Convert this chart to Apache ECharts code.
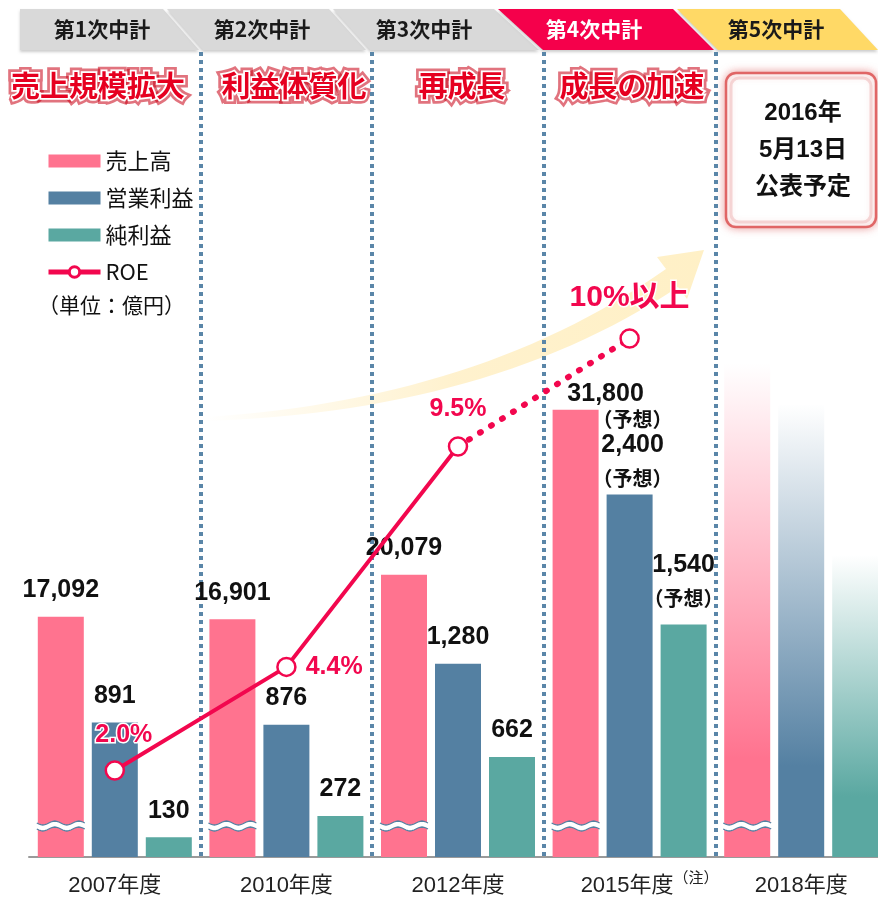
<!DOCTYPE html>
<html lang="ja">
<head>
<meta charset="utf-8">
<title>中期経営計画と業績の推移</title>
<script src="https://cdn.jsdelivr.net/npm/echarts@6/dist/echarts.min.js"></script>
<style>
  html, body { margin: 0; padding: 0; background: #fff; }
  #main { width: 878px; height: 900px; }
</style>
</head>
<body>
<div id="main"></div>
<script>
// 年度
const years = ['2007年度', '2010年度', '2012年度', '2015年度', '2018年度']
const yearNotes = ['', '', '', '（注）', '']
// 中計
const plans = ['第1次中計', '第2次中計', '第3次中計', '第4次中計', '第5次中計']
const themes = ['売上規模拡大', '利益体質化', '再成長', '成長の加速']
// 単位：億円（2018年度は未公表、棒の高さのみ）
const sales = [17092, 16901, 20079, 31800, 35100]
const operatingProfit = [891, 876, 1280, 2400, 3000]
const netProfit = [130, 272, 662, 1540, 2000]
const forecast = [false, false, false, true, false]
const undisclosed = [false, false, false, false, true]
// ROE（%）
const roe = [2.0, 4.4, 9.5, null, null]
const roeTarget = [null, null, 9.5, 12, null]
const roeLabels = ['2.0%', '4.4%', '9.5%', '10%以上', '']
const announce = ['2016年', '5月13日', '公表予定']

const PINK = '#ff738f'
const BLUE = '#5480a2'
const TEAL = '#5aa8a1'
const RED = '#f2074e'
const BAR_W = 46
const BAR_GAP = 8
const NUM_FONT = '"Liberation Sans", "Noto Sans CJK JP", sans-serif'
const JP_FONT = '"Noto Sans CJK JP", sans-serif'

const chart = echarts.init(document.getElementById('main'))

const fmt = v => v.toLocaleString('en-US')

const rgba = (hex, a) => {
  const n = parseInt(hex.slice(1), 16)
  return `rgba(${n >> 16}, ${(n >> 8) & 255}, ${n & 255}, ${a})`
}

// 未公表の棒は上に向かって消えていく
const fade = hex => new echarts.graphic.LinearGradient(0, 0, 0, 1, [
  { offset: 0, color: rgba(hex, 0) },
  { offset: 0.8, color: hex }
])

const richBase = (lh, padLeft) => ({
  v: { fontSize: 25, fontWeight: 'bold', lineHeight: lh, align: 'center', color: '#111', fontFamily: NUM_FONT },
  p: { fontSize: 20, fontWeight: 'bold', lineHeight: lh, align: 'center', color: '#111', fontFamily: JP_FONT, padding: [0, 0, 0, padLeft] }
})

const valueLabel = {
  show: true,
  position: 'top',
  distance: 10,
  formatter: p => forecast[p.dataIndex]
    ? `{v|${fmt(p.value)}}\n{p|（予想）}`
    : `{v|${fmt(p.value)}}`,
  rich: richBase(33, 0)
}

// forecastLabel: 予想の年だけ位置をずらす
const barData = (values, color, forecastLabel) => values.map((v, i) => {
  if (undisclosed[i]) {
    return { value: v, itemStyle: { color: fade(color) }, label: { show: false } }
  }
  if (forecast[i] && forecastLabel) return { value: v, label: forecastLabel }
  return v
})

const barSeries = (name, values, color, yAxisIndex, forecastLabel) => ({
  name,
  type: 'bar',
  yAxisIndex,
  barWidth: BAR_W,
  barGap: (BAR_GAP / BAR_W * 100) + '%',
  itemStyle: { color },
  label: valueLabel,
  data: barData(values, color, forecastLabel)
})

// 売上高の棒の省略記号（波線）
const waveItem = (params, api) => {
  const base = api.coord([api.value(0), 0])
  const cx = base[0] - (BAR_W + BAR_GAP)
  const cy = base[1] - 31
  const half = BAR_W / 2 + 1
  const top = []
  const bottom = []
  for (let k = 0; k <= 24; k++) {
    const x = cx - half + (2 * half) * k / 24
    const dy = 2 * Math.sin(k / 24 * Math.PI * 4)
    top.push([x, cy - 3 + dy])
    bottom.push([x, cy + 3 + dy])
  }
  return {
    type: 'group',
    children: [
      { type: 'polygon', shape: { points: top.concat(bottom.slice().reverse()) }, style: { fill: '#fff' } },
      { type: 'polyline', shape: { points: top }, style: { stroke: BLUE, lineWidth: 1.3, fill: null } },
      { type: 'polyline', shape: { points: bottom }, style: { stroke: BLUE, lineWidth: 1.3, fill: null } }
    ]
  }
}

const roeLabelStyle = {
  show: true,
  color: RED,
  fontSize: 25,
  fontWeight: 'bold',
  fontFamily: NUM_FONT,
  textBorderColor: '#fff',
  textBorderWidth: 3,
  formatter: p => roeLabels[p.dataIndex]
}
const roeLabelPos = [
  { position: 'top', distance: 13, offset: [9, 0] },
  { position: 'right', distance: 9 },
  { position: 'top', distance: 15 },
  { position: 'top', distance: 15, fontSize: 30, fontFamily: NUM_FONT }
]

const headerPoints = [
  [[20, 9], [163, 9], [199, 50], [20, 50]],
  [[167, 9], [329, 9], [366, 50], [203, 50]],
  [[333, 9], [494, 9], [539, 50], [370, 50]],
  [[498, 9], [673, 9], [714, 50], [543, 50]],
  [[677, 9], [840, 9], [878, 50], [718, 50]]
]
const headerFill = ['#d9d9d9', '#d9d9d9', '#d9d9d9', '#f5004b', '#ffd966']
const headerText = ['#1a1a1a', '#1a1a1a', '#1a1a1a', '#fff', '#1a1a1a']
const headerCx = [102, 262, 424, 594, 776]
const themeCx = [98, 294, 462, 632]

// 二次ベジェを点列にする（矢印の外形用）
const quad = (p0, c, p1, n) => {
  const pts = []
  for (let k = 0; k <= n; k++) {
    const t = k / n
    const a = (1 - t) * (1 - t), b = 2 * t * (1 - t), d = t * t
    pts.push([a * p0[0] + b * c[0] + d * p1[0], a * p0[1] + b * c[1] + d * p1[1]])
  }
  return pts
}
const arrowPoints = quad([205, 417], [480, 400], [666, 269], 30)
  .concat([[657, 257], [704, 250], [687, 299]])
  .concat(quad([205, 421], [490, 412], [678, 287], 30).reverse())

const graphics = []

// 大きな矢印（背景）
graphics.push({
  type: 'polygon',
  z: -1,
  shape: { points: arrowPoints },
  style: {
    fill: new echarts.graphic.LinearGradient(0, 0, 1, 0, [
      { offset: 0, color: 'rgba(255, 240, 200, 0)' },
      { offset: 0.5, color: 'rgba(255, 240, 200, 0.9)' },
      { offset: 1, color: '#fff0c6' }
    ])
  }
})

plans.forEach((name, i) => {
  graphics.push({
    type: 'polygon',
    shape: { points: headerPoints[i] },
    style: {
      fill: headerFill[i],
      shadowBlur: 3,
      shadowOffsetY: 2,
      shadowColor: 'rgba(0, 0, 0, 0.2)'
    }
  })
  graphics.push({
    type: 'text',
    x: headerCx[i],
    y: 29,
    style: {
      text: name,
      fill: headerText[i],
      font: 'bold 21px ' + JP_FONT,
      textAlign: 'center',
      textVerticalAlign: 'middle'
    }
  })
})

// テーマ：赤い縁取り＋白い縁取り＋赤文字
themes.forEach((t, i) => {
  const base = {
    text: t,
    font: 'bold 29px ' + JP_FONT,
    textAlign: 'center',
    textVerticalAlign: 'middle'
  }
  graphics.push({
    type: 'text',
    x: themeCx[i],
    y: 86,
    style: Object.assign({}, base, {
      fill: '#c40018',
      stroke: 'rgba(200, 0, 20, 0.55)',
      lineWidth: 9,
      shadowBlur: 5,
      shadowColor: 'rgba(190, 0, 20, 0.8)'
    })
  })
  graphics.push({
    type: 'text',
    x: themeCx[i],
    y: 86,
    style: Object.assign({}, base, {
      fill: '#e60020',
      stroke: '#fff',
      lineWidth: 3.5,
      strokeFirst: true
    })
  })
})

// 公表予定の枠
graphics.push({
  type: 'rect',
  shape: { x: 726, y: 73, width: 150, height: 154, r: 10 },
  style: {
    fill: '#fff',
    stroke: '#e06666',
    lineWidth: 2.5,
    shadowBlur: 8,
    shadowColor: 'rgba(220, 80, 80, 0.5)'
  }
})
graphics.push({
  type: 'rect',
  shape: { x: 731, y: 78, width: 140, height: 144, r: 8 },
  style: { fill: null, stroke: 'rgba(240, 190, 190, 0.6)', lineWidth: 3 }
})
announce.forEach((t, i) => {
  graphics.push({
    type: 'text',
    x: 803,
    y: 113 + i * 37,
    style: {
      text: t,
      fill: '#111',
      font: 'bold 24px ' + NUM_FONT,
      textAlign: 'center',
      textVerticalAlign: 'middle'
    }
  })
})

graphics.push({
  type: 'text',
  x: 38,
  y: 305,
  style: {
    text: '（単位：億円）',
    fill: '#111',
    font: '21px ' + JP_FONT,
    textVerticalAlign: 'middle'
  }
})

const option = {
  animation: false,
  backgroundColor: '#fff',
  textStyle: { fontFamily: JP_FONT },
  grid: {
    left: 29,
    top: 52,
    width: 858,
    height: 805,
    containLabel: false,
    outerBoundsMode: 'none'
  },
  legend: {
    data: [
      { name: '売上高', icon: 'rect' },
      { name: '営業利益', icon: 'rect' },
      { name: '純利益', icon: 'rect' },
      { name: 'ROE', lineStyle: { width: 5 }, itemStyle: { borderWidth: 3 } }
    ],
    orient: 'vertical',
    left: 41,
    top: 145,
    itemWidth: 52,
    itemHeight: 13,
    itemGap: 15,
    selectedMode: false,
    textStyle: { fontSize: 22, color: '#111', fontFamily: JP_FONT }
  },
  xAxis: {
    type: 'category',
    data: years,
    boundaryGap: true,
    axisLine: { lineStyle: { color: '#9a9a9a', width: 2 } },
    axisTick: { show: false },
    axisLabel: {
      margin: 13,
      interval: 0,
      formatter: (v, i) => yearNotes[i]
        ? `{y2|${v}}{n|${yearNotes[i]}}`
        : `{y|${v}}`,
      rich: {
        y: { fontSize: 22, color: '#222', lineHeight: 32, fontFamily: NUM_FONT },
        y2: { fontSize: 22, color: '#222', lineHeight: 32, fontFamily: NUM_FONT, padding: [0, 0, 0, 40] },
        n: { fontSize: 15, color: '#222', lineHeight: 15, verticalAlign: 'top', fontFamily: JP_FONT }
      }
    },
    splitLine: {
      show: true,
      interval: 0,
      showMinLine: false,
      showMaxLine: false,
      lineStyle: { color: '#5a86a8', width: 4, type: [4, 4] }
    }
  },
  yAxis: [
    { type: 'value', show: false, min: 0, max: 57250 },
    { type: 'value', show: false, min: 0, max: 5330 },
    { type: 'value', show: false, min: 0, max: 18.63 }
  ],
  series: [
    barSeries('売上高', sales, PINK, 0, {
      offset: [30, 33],
      rich: richBase(26, 54)
    }),
    barSeries('営業利益', operatingProfit, BLUE, 1, {
      distance: 0,
      offset: [3, 0]
    }),
    barSeries('純利益', netProfit, TEAL, 1, null),
    {
      name: '波線',
      type: 'custom',
      yAxisIndex: 0,
      z: 3,
      silent: true,
      renderItem: waveItem,
      data: years.map((y, i) => [i, 0])
    },
    {
      name: 'ROE',
      type: 'line',
      yAxisIndex: 2,
      z: 5,
      symbol: 'circle',
      symbolSize: 18,
      lineStyle: { color: RED, width: 4 },
      itemStyle: { color: '#fff', borderColor: RED, borderWidth: 2.5 },
      label: roeLabelStyle,
      data: roe.map((v, i) => v == null ? null : { value: v, label: roeLabelPos[i] })
    },
    {
      name: 'ROE目標',
      type: 'line',
      yAxisIndex: 2,
      z: 4,
      symbol: 'circle',
      symbolSize: 18,
      lineStyle: { color: RED, width: 6, type: [1, 12], cap: 'round' },
      itemStyle: { color: '#fff', borderColor: RED, borderWidth: 2.5 },
      label: roeLabelStyle,
      data: roeTarget.map((v, i) => {
        if (v == null) return null
        if (roe[i] != null) return { value: v, symbol: 'none', label: { show: false } }
        return { value: v, label: roeLabelPos[i] }
      })
    }
  ],
  graphic: { elements: graphics }
}

chart.setOption(option)
</script>
</body>
</html>
